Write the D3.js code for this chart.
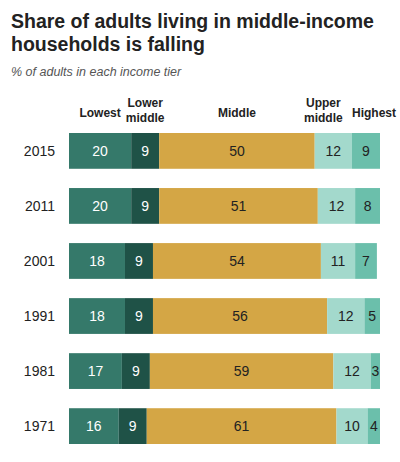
<!DOCTYPE html><html><head><meta charset="utf-8"><script src="https://cdn.jsdelivr.net/npm/d3@7"></script>
<style>body{margin:0;background:#fff}svg{font-family:"Liberation Sans",Arial,sans-serif}</style></head><body><svg id="c" width="400" height="462"></svg>
<script>
const years=["2015","2011","2001","1991","1981","1971"];
const tiers=["Lowest","Lower middle","Middle","Upper middle","Highest"];
const lowest=[20,20,18,18,17,16];
const lowerMiddle=[9,9,9,9,9,9];
const middle=[50,51,54,56,59,61];
const upperMiddle=[12,12,11,12,12,10];
const highest=[9,8,7,5,3,4];
const series=[lowest,lowerMiddle,middle,upperMiddle,highest];
const colors=["#35796a","#1f5247","#d4a645","#a3d9cc","#6bbfab"];
const textCol=["#fff","#fff","#222","#222","#222"];
const headShift=[0,0,0,-10,8];
const svg=d3.select("#c");
svg.append("text").attr("x",11).attr("y",28).attr("font-size",19.5).attr("font-weight","bold").attr("fill","#222").text("Share of adults living in middle-income");
svg.append("text").attr("x",11).attr("y",51).attr("font-size",19.5).attr("font-weight","bold").attr("fill","#222").text("households is falling");
svg.append("text").attr("x",11).attr("y",76).attr("font-size",12.5).attr("font-style","italic").attr("fill","#555").text("% of adults in each income tier");
const x=d3.scaleLinear().domain([0,100]).range([69,380]);
const y=d3.scaleBand().domain(years).range([133,444]).paddingInner(0.35).paddingOuter(0);
const bh=y.bandwidth();
years.forEach((yr,i)=>{
  let acc=0;
  const g=svg.append("g");
  g.append("text").attr("x",55).attr("y",y(yr)+bh/2+5).attr("text-anchor","end").attr("font-size",14).attr("fill","#222").text(yr);
  series.forEach((s,j)=>{
    const v=s[i];
    g.append("rect").attr("x",x(acc)).attr("y",y(yr)).attr("width",x(acc+v)-x(acc)).attr("height",bh).attr("fill",colors[j]);
    g.append("text").attr("x",(x(acc)+x(acc+v))/2).attr("y",y(yr)+bh/2+5).attr("text-anchor","middle").attr("font-size",14).attr("fill",textCol[j]).text(v);
    if(i===0){
      const cx=(x(acc)+x(acc+v))/2+headShift[j];
      const words=tiers[j].split(" ");
      const t=svg.append("text").attr("x",cx).attr("text-anchor","middle").attr("font-size",12).attr("font-weight","bold").attr("font-family","'Liberation Sans Narrow','Liberation Sans',Arial,sans-serif").attr("fill","#222");
      if(words.length===1) t.attr("y",117).text(words[0]);
      else { t.append("tspan").attr("x",cx).attr("y",107).text(words[0]); t.append("tspan").attr("x",cx).attr("y",122).text(words[1]); }
    }
    acc+=v;
  });
});
</script></body></html>
